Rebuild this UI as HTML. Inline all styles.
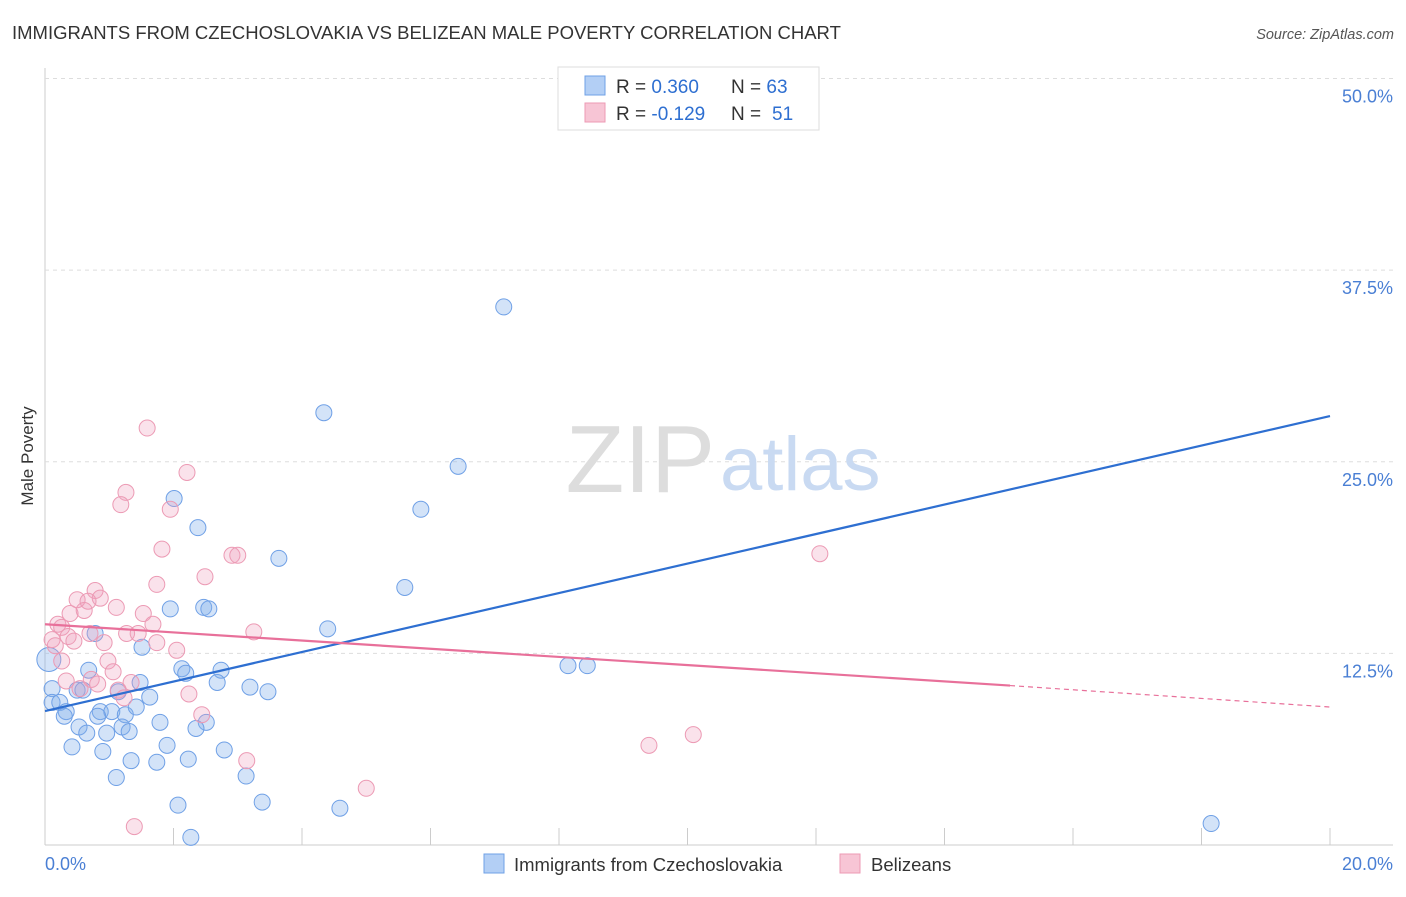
<!DOCTYPE html>
<html><head><meta charset="utf-8"><style>
body{margin:0;background:#fff;font-family:"Liberation Sans",sans-serif;}
svg text{font-family:"Liberation Sans",sans-serif;}
</style></head><body>
<svg id="c" width="1406" height="892">
<text x="12" y="39" font-size="18.5" fill="#333">IMMIGRANTS FROM CZECHOSLOVAKIA VS BELIZEAN MALE POVERTY CORRELATION CHART</text>
<text x="1394" y="39" font-size="14.5" fill="#555" font-style="italic" text-anchor="end">Source: ZipAtlas.com</text>
<text x="33" y="456" font-size="17" fill="#333" transform="rotate(-90 33 456)" text-anchor="middle">Male Poverty</text>
<g id="grid"></g>
<text x="715" y="492" font-size="96" fill="#ddd" text-anchor="end" font-family="Liberation Serif">ZIP</text>
<text x="720" y="490" font-size="76" fill="#c9daf2">atlas</text>
<g id="pts"></g>
<g id="lines"></g>
<g>
<rect x="558" y="67" width="261" height="63" fill="#fff" stroke="#ddd"/>
<rect x="585" y="76" width="20" height="19" fill="#b3cff5" stroke="#6fa0e6"/>
<rect x="585" y="103" width="20" height="19" fill="#f7c5d5" stroke="#ec9ab4"/>
<text x="616" y="93" font-size="19" fill="#333">R = <tspan fill="#2e6fd1">0.360</tspan><tspan x="731">N = </tspan><tspan fill="#2e6fd1">63</tspan></text>
<text x="616" y="120" font-size="19" fill="#333">R = <tspan fill="#2e6fd1">-0.129</tspan><tspan x="731">N = </tspan><tspan fill="#2e6fd1" x="772">51</tspan></text>
</g>
<text x="45" y="870" font-size="18" fill="#4a7fd4">0.0%</text>
<text x="1393" y="870" font-size="18" fill="#4a7fd4" text-anchor="end">20.0%</text>
<rect x="484" y="854" width="20" height="19" fill="#b3cff5" stroke="#6fa0e6"/>
<text x="514" y="871" font-size="18.5" fill="#333">Immigrants from Czechoslovakia</text>
<rect x="840" y="854" width="20" height="19" fill="#f7c5d5" stroke="#ec9ab4"/>
<text x="871" y="871" font-size="18.5" fill="#333">Belizeans</text>
</svg>
<script>
const yTicks=[12.5,25.0,37.5,50.0];
const blueX=[11.38,7.14,4.34,6.43,5.85,2.01,2.38,3.64,5.60,1.95,2.47,2.55,4.40,0.78,1.51,8.14,8.44,2.13,2.19,2.74,0.68,2.68,3.19,3.47,1.48,1.14,1.63,0.5,0.59,0.11,0.11,0.23,0.33,0.3,0.86,1.04,1.25,1.42,0.82,1.79,2.51,2.35,0.53,0.65,0.96,1.2,1.31,0.42,1.9,2.79,0.9,1.34,1.74,2.23,1.11,3.13,2.07,3.38,4.59,2.27,18.15,0.06];
const blueY=[49.9,35.1,28.2,24.7,21.9,22.6,20.7,18.7,16.8,15.4,15.5,15.4,14.1,13.8,12.9,11.7,11.7,11.5,11.2,11.4,11.4,10.6,10.3,10.0,10.6,10.0,9.65,10.1,10.1,10.2,9.3,9.3,8.7,8.4,8.7,8.7,8.5,9.0,8.4,8.0,8.0,7.6,7.7,7.3,7.3,7.7,7.4,6.4,6.5,6.2,6.1,5.5,5.4,5.6,4.4,4.5,2.6,2.8,2.4,0.5,1.4,12.1];
const pinkX=[1.59,2.21,1.26,1.18,1.95,1.82,2.91,3.0,12.06,2.49,1.74,0.78,0.86,0.5,0.67,1.11,0.39,0.61,1.53,1.68,0.2,0.26,3.25,1.27,1.45,0.7,0.36,0.92,1.74,0.11,0.16,0.45,2.05,0.26,0.98,1.06,0.33,0.72,0.82,0.545,1.34,1.14,1.23,2.24,2.44,9.4,10.09,3.14,5.0,1.39];
const pinkY=[27.2,24.3,23.0,22.2,21.9,19.3,18.9,18.9,19.0,17.5,17.0,16.6,16.1,16.0,15.9,15.5,15.1,15.3,15.1,14.4,14.4,14.2,13.9,13.8,13.8,13.8,13.6,13.2,13.2,13.4,13.0,13.3,12.7,12.0,12.0,11.3,10.7,10.8,10.5,10.2,10.6,10.1,9.6,9.85,8.5,6.5,7.2,5.5,3.7,1.2];
const blueTrend=[8.74,27.98];
const pinkTrend=[14.4,10.4,9.0];
const pinkSolidEnd=15.02;
const X=v=>45+v*64.25, Y=v=>845-v*15.33;
const NS='http://www.w3.org/2000/svg';
function mk(p,t,a){const e=document.createElementNS(NS,t);for(const k in a)e.setAttribute(k,a[k]);p.appendChild(e);return e;}
const g=document.getElementById('grid');
const ax=mk(g,'line',{x1:45,y1:68,x2:45,y2:845,stroke:'#ccc'});


const bx=mk(g,'line',{x1:45,y1:845,x2:1393,y2:845,stroke:'#ccc'});


yTicks.forEach(t=>{
 const l=mk(g,'line',{x1:45,y1:Y(t),x2:1393,y2:Y(t),stroke:'#ddd','stroke-dasharray':'4,4'});
 
 
 const tx=mk(g,'text',{x:1393,y:Y(t)+24,'font-size':18,fill:'#4a7fd4','text-anchor':'end'});
 tx.textContent=t.toFixed(1)+'%';
 
 
});
for(let i=1;i<=10;i++){
 const l=mk(g,'line',{x1:X(i*2),y1:828,x2:X(i*2),y2:845,stroke:'#ccc'});
 
 
}
const p=document.getElementById('pts');
blueX.forEach((v,i)=>{
 const c=mk(p,'circle',{cx:X(v),cy:Y(blueY[i]),r:i==blueX.length-1?12:8,fill:'rgba(130,175,235,0.35)',stroke:'#6fa0e6','stroke-width':1});
 
 
});
pinkX.forEach((v,i)=>{
 const c=mk(p,'circle',{cx:X(v),cy:Y(pinkY[i]),r:8,fill:'rgba(240,160,190,0.3)',stroke:'#ec9ab4','stroke-width':1});
 
 
});
const L=document.getElementById('lines');
const bl=mk(L,'line',{x1:X(0),y1:Y(blueTrend[0]),x2:X(20),y2:Y(blueTrend[1]),stroke:'#2e6fd1','stroke-width':2.2});


const pl=mk(L,'line',{x1:X(0),y1:Y(pinkTrend[0]),x2:X(pinkSolidEnd),y2:Y(pinkTrend[1]),stroke:'#e8709a','stroke-width':2.2});


const pd=mk(L,'line',{x1:X(pinkSolidEnd),y1:Y(pinkTrend[1]),x2:X(20),y2:Y(pinkTrend[2]),stroke:'#e8709a','stroke-width':1.2,'stroke-dasharray':'5,4'});


</script>
</body></html>
